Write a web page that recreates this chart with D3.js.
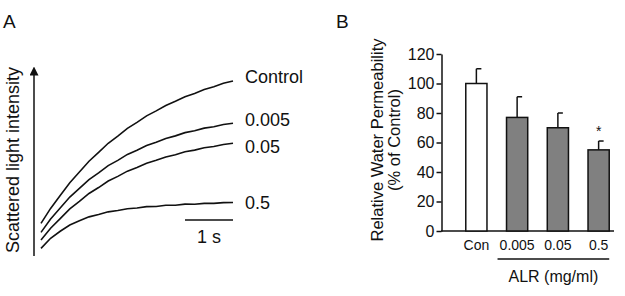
<!DOCTYPE html>
<html>
<head>
<meta charset="utf-8">
<script src="https://cdn.jsdelivr.net/npm/d3@7"></script>
<style>
  body { margin: 0; background: #fff; }
  text { font-family: "Liberation Sans", Arial, sans-serif; fill: #111; }
</style>
</head>
<body>
<svg id="chart" width="625" height="296"></svg>
<script>
// Panel A: light scattering traces (time in s, intensity in arbitrary units)
var traceTime = [0, 0.2, 0.4, 0.6, 0.8, 1.0, 1.2, 1.4, 1.6, 1.8, 2.0, 2.2, 2.4, 2.6, 2.8, 3.0, 3.2, 3.4, 3.6, 3.8, 4.0];
var traceControl = [14.8, 23.1, 30.3, 37.4, 43.3, 49.3, 54.2, 59.3, 63.3, 67.6, 70.9, 74.5, 77.3, 80.3, 82.6, 85.1, 87.0, 89.2, 90.7, 92.6, 93.9];
var trace0005 = [9.8, 17.2, 23.3, 29.4, 34.2, 39.1, 42.9, 46.9, 49.8, 53.1, 55.4, 58.0, 59.8, 62.0, 63.4, 65.2, 66.2, 67.7, 68.5, 69.7, 70.4];
var trace005 = [5.6, 12.1, 17.4, 22.8, 27.0, 31.4, 34.7, 38.3, 40.9, 43.8, 45.8, 48.2, 49.8, 51.7, 52.9, 54.6, 55.5, 56.8, 57.5, 58.6, 59.3];
var trace05 = [0.9, 6.5, 10.4, 13.9, 16.2, 18.4, 19.7, 21.2, 21.9, 22.9, 23.3, 24.1, 24.2, 24.9, 24.9, 25.5, 25.4, 25.9, 25.9, 26.3, 26.4];
var traceNames = ["Control", "0.005", "0.05", "0.5"];

// Panel B: relative water permeability
var barCats = ["Con", "0.005", "0.05", "0.5"];
var barMeans = [100, 77, 70, 55];
var barErrors = [10, 14, 10, 6];
var barMarks = ["", "", "", "*"];
var yTicks = [0, 20, 40, 60, 80, 100, 120];

var svg = d3.select("#chart");

/* ---------- panel A ---------- */
var gA = svg.append("g");

gA.append("text")
  .attr("x", 3).attr("y", 28)
  .style("font-size", "19px")
  .text("A");

var xA = d3.scaleLinear().domain([0, 4]).range([41, 233]);
var yA = d3.scaleLinear().domain([0, 100]).range([250, 70]);

var defs = svg.append("defs");
defs.append("marker")
  .attr("id", "arrow")
  .attr("viewBox", "0 0 10 10")
  .attr("refX", 5).attr("refY", 5)
  .attr("markerWidth", 6).attr("markerHeight", 6)
  .attr("orient", "auto")
  .append("path")
  .attr("d", "M0,0L10,5L0,10z")
  .attr("fill", "#111");

gA.append("line")
  .attr("x1", 34).attr("x2", 34)
  .attr("y1", 256).attr("y2", 71)
  .attr("stroke", "#111")
  .attr("stroke-width", 1.5)
  .attr("marker-end", "url(#arrow)");

gA.append("text")
  .attr("transform", "translate(13,160) rotate(-90)")
  .attr("text-anchor", "middle")
  .attr("dy", "0.35em")
  .style("font-size", "18px")
  .text("Scattered light intensity");

var traces = [traceControl, trace0005, trace005, trace05];
var labelNudge = [-4, -4, 3, 0];

var line = d3.line()
  .x(function(d, i) { return xA(traceTime[i]); })
  .y(function(d) { return yA(d); });

gA.selectAll("path.trace")
  .data(traces)
  .enter().append("path")
  .attr("class", "trace")
  .attr("d", line)
  .attr("fill", "none")
  .attr("stroke", "#111")
  .attr("stroke-width", 1.6);

gA.selectAll("text.tlabel")
  .data(traces)
  .enter().append("text")
  .attr("class", "tlabel")
  .attr("x", xA(4) + 12)
  .attr("y", function(d, i) { return yA(d[d.length - 1]) + labelNudge[i]; })
  .attr("dy", "0.35em")
  .style("font-size", "18px")
  .text(function(d, i) { return traceNames[i]; });

// 1 s scale bar
gA.append("line")
  .attr("x1", xA(3)).attr("x2", xA(4))
  .attr("y1", 220).attr("y2", 220)
  .attr("stroke", "#111")
  .attr("stroke-width", 1.6);

gA.append("text")
  .attr("x", (xA(3) + xA(4)) / 2)
  .attr("y", 243)
  .attr("text-anchor", "middle")
  .style("font-size", "18px")
  .text("1 s");

/* ---------- panel B ---------- */
var gB = svg.append("g");

gB.append("text")
  .attr("x", 336).attr("y", 28)
  .style("font-size", "19px")
  .text("B");

var x = d3.scaleBand()
  .domain(barCats)
  .range([456, 619])
  .paddingInner(0.48)
  .paddingOuter(0.24);

var y = d3.scaleLinear().domain([0, 120]).range([231, 54]);

var yAxis = gB.append("g")
  .attr("transform", "translate(441.5,0)")
  .call(d3.axisLeft(y).tickValues(yTicks).tickSize(5).tickPadding(2).tickSizeOuter(0));
yAxis.select(".domain").attr("stroke", "#111").attr("stroke-width", 1.5);
yAxis.selectAll(".tick line").attr("stroke", "#111").attr("stroke-width", 1.5);
yAxis.selectAll(".tick text")
  .style("font-size", "16px")
  .style("font-family", "'Liberation Sans', Arial, sans-serif")
  .attr("fill", "#111");

gB.append("line")
  .attr("x1", 441).attr("x2", 614)
  .attr("y1", y(0)).attr("y2", y(0))
  .attr("stroke", "#111")
  .attr("stroke-width", 1.5);

gB.append("text")
  .attr("transform", "translate(377,140) rotate(-90)")
  .attr("text-anchor", "middle")
  .attr("dy", "0.35em")
  .style("font-size", "16.5px")
  .text("Relative Water Permeability");

gB.append("text")
  .attr("transform", "translate(394,140) rotate(-90)")
  .attr("text-anchor", "middle")
  .attr("dy", "0.35em")
  .style("font-size", "16.5px")
  .text("(% of Control)");

var bar = gB.selectAll("g.bar")
  .data(barCats)
  .enter().append("g")
  .attr("class", "bar");

// error bars (drawn first, bar covers the lower part)
bar.append("line")
  .attr("x1", function(d) { return x(d) + x.bandwidth() / 2; })
  .attr("x2", function(d) { return x(d) + x.bandwidth() / 2; })
  .attr("y1", function(d, i) { return y(barMeans[i]); })
  .attr("y2", function(d, i) { return y(barMeans[i] + barErrors[i]); })
  .attr("stroke", "#111")
  .attr("stroke-width", 1.5);

bar.append("line")
  .attr("x1", function(d) { return x(d) + x.bandwidth() / 2; })
  .attr("x2", function(d) { return x(d) + x.bandwidth() / 2 + 5; })
  .attr("y1", function(d, i) { return y(barMeans[i] + barErrors[i]); })
  .attr("y2", function(d, i) { return y(barMeans[i] + barErrors[i]); })
  .attr("stroke", "#111")
  .attr("stroke-width", 1.5);

bar.append("rect")
  .attr("x", function(d) { return x(d); })
  .attr("width", x.bandwidth())
  .attr("y", function(d, i) { return y(barMeans[i]); })
  .attr("height", function(d, i) { return y(0) - y(barMeans[i]); })
  .attr("fill", function(d, i) { return i === 0 ? "#fff" : "#808080"; })
  .attr("stroke", "#111")
  .attr("stroke-width", 1.5);

bar.append("text")
  .attr("x", function(d) { return x(d) + x.bandwidth() / 2; })
  .attr("y", function(d, i) { return y(barMeans[i] + barErrors[i]) - 5; })
  .attr("text-anchor", "middle")
  .style("font-size", "14px")
  .text(function(d, i) { return barMarks[i]; });

bar.append("text")
  .attr("x", function(d) { return x(d) + x.bandwidth() / 2; })
  .attr("y", 250)
  .attr("text-anchor", "middle")
  .style("font-size", "14px")
  .text(function(d) { return d; });

// bracket under the ALR doses
gB.append("line")
  .attr("x1", x("0.005") - 9).attr("x2", x("0.5") + x.bandwidth())
  .attr("y1", 259).attr("y2", 259)
  .attr("stroke", "#111")
  .attr("stroke-width", 1.3);

gB.append("text")
  .attr("x", (x("0.005") - 9 + x("0.5") + x.bandwidth()) / 2)
  .attr("y", 282)
  .attr("text-anchor", "middle")
  .style("font-size", "16px")
  .text("ALR (mg/ml)");
</script>
</body>
</html>
